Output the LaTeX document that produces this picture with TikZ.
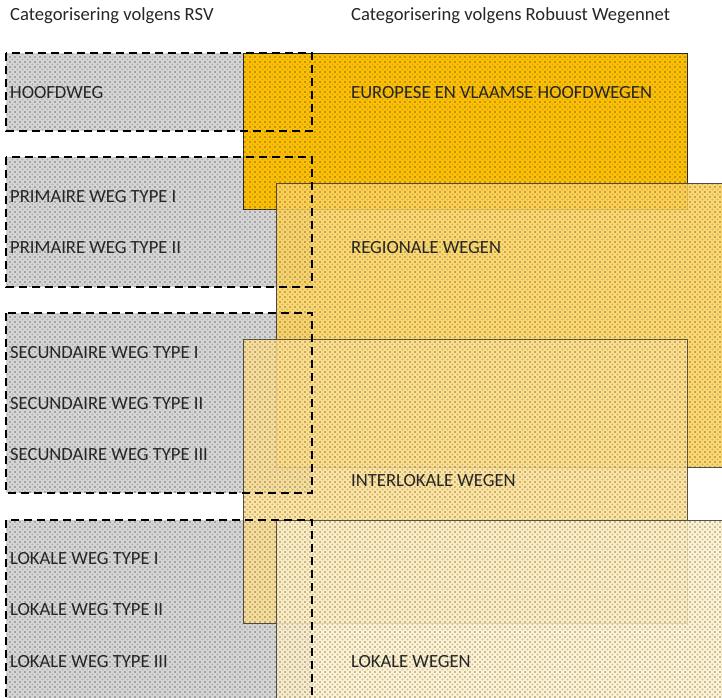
\documentclass[tikz,border=0pt]{standalone}
\usepackage{fontspec}
\setmainfont{Carlito}
\usetikzlibrary{patterns.meta}
\definecolor{rsvgray}{HTML}{D6D6D6}
\definecolor{euro}{HTML}{FFC000}
\definecolor{regio}{HTML}{FFD45A}
\definecolor{inter}{HTML}{FFE08E}
\definecolor{lokaal}{HTML}{FFF1C9}
\definecolor{txt}{HTML}{262626}
\tikzset{
  lbl/.style={anchor=west, inner sep=0pt, text=txt, font=\fontsize{18.6}{21}\selectfont},
  rsvbox/.style={draw=black, line width=1.8pt, dash pattern=on 8pt off 5pt},
  wegbox/.style={draw=black!85, line width=0.9pt},
  dotfill/.style={pattern={Dots[distance=5pt,radius=0.65pt]}, pattern color=black},
  dotfilltwo/.style={pattern={Dots[distance=5pt,radius=1.1pt,xshift=2.5pt,yshift=2.5pt]}, pattern color=black!50, fill opacity=0.4},
}
\begin{document}
\begin{tikzpicture}[x=1pt,y=-1pt]
\useasboundingbox (0,0) rectangle (722,697);
\begin{scope}
\clip (0,0) rectangle (722,697);
% RSV gray fills
\fill[rsvgray] (6,53) rectangle (312,131);
\fill[rsvgray] (6,157) rectangle (312,287);
\fill[rsvgray] (6,313) rectangle (312,493);
\fill[rsvgray] (6,520) rectangle (312,710);
% Robuust Wegennet boxes
\fill[euro] (243,53) rectangle (687,209);
\draw[wegbox] (243,53) rectangle (687,209);
\fill[regio, fill opacity=0.88] (276,183) rectangle (730,467);
\draw[wegbox, draw opacity=0.8] (276,183) rectangle (730,467);
\fill[inter, fill opacity=0.85] (243,339) rectangle (687,623);
\draw[wegbox, draw opacity=0.8] (243,339) rectangle (687,623);
\fill[lokaal, fill opacity=0.85] (276,520) rectangle (730,710);
\draw[wegbox, draw opacity=0.8] (276,520) rectangle (730,710);
% dot texture (one path each, so overlaps are painted once)
\fill[dotfilltwo, nonzero rule]
  (6,53) rectangle (312,131) (6,157) rectangle (312,287)
  (6,313) rectangle (312,493) (6,520) rectangle (312,710)
  (243,53) rectangle (687,209) (276,183) rectangle (730,467)
  (243,339) rectangle (687,623) (276,520) rectangle (730,710);
\fill[dotfill, nonzero rule]
  (6,53) rectangle (312,131) (6,157) rectangle (312,287)
  (6,313) rectangle (312,493) (6,520) rectangle (312,710)
  (243,53) rectangle (687,209) (276,183) rectangle (730,467)
  (243,339) rectangle (687,623) (276,520) rectangle (730,710);
% RSV dashed outlines
\draw[rsvbox] (6,53) rectangle (312,131);
\draw[rsvbox] (6,157) rectangle (312,287);
\draw[rsvbox] (6,313) rectangle (312,493);
\draw[rsvbox] (6,710) -- (6,520) -- (312,520) -- (312,710);
\end{scope}
% headers
\node[lbl] (hrsv) at (10,16) {Categorisering volgens RSV};
\node[lbl] (hrw) at (351,16) {Categorisering volgens Robuust Wegennet};
% RSV labels
\node[lbl] (hoofd) at (10,93) {HOOFDWEG};
\node[lbl] (prim1) at (10,197) {PRIMAIRE WEG TYPE I};
\node[lbl] (prim2) at (10,248) {PRIMAIRE WEG TYPE II};
\node[lbl] (sec1) at (10,353) {SECUNDAIRE WEG TYPE I};
\node[lbl] (sec2) at (10,404) {SECUNDAIRE WEG TYPE II};
\node[lbl] (sec3) at (10,455) {SECUNDAIRE WEG TYPE III};
\node[lbl] (lok1) at (10,559) {LOKALE WEG TYPE I};
\node[lbl] (lok2) at (10,610) {LOKALE WEG TYPE II};
\node[lbl] (lok3) at (10,662) {LOKALE WEG TYPE III};
% Robuust Wegennet labels
\node[lbl] (euroL) at (351,93) {EUROPESE EN VLAAMSE HOOFDWEGEN};
\node[lbl] (regioL) at (351,248) {REGIONALE WEGEN};
\node[lbl] (interL) at (351,481) {INTERLOKALE WEGEN};
\node[lbl] (lokL) at (351,662) {LOKALE WEGEN};
\end{tikzpicture}
\end{document}
